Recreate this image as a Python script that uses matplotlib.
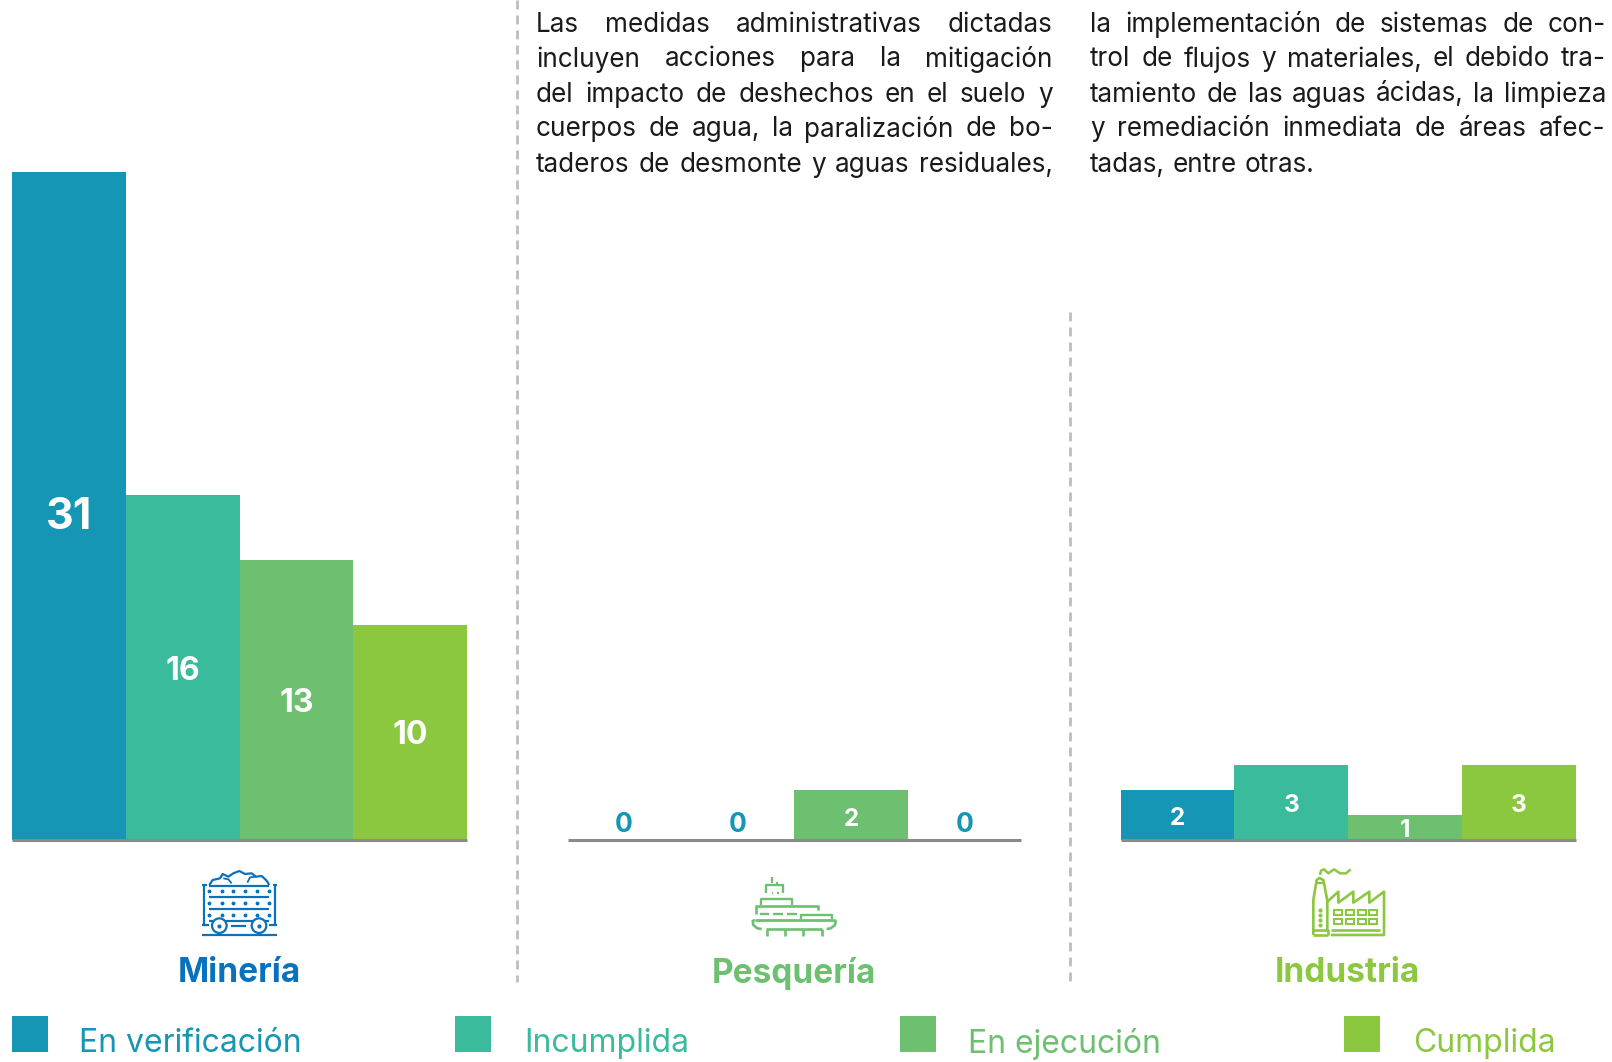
import numpy as np
import matplotlib
matplotlib.use('Agg')
import matplotlib.pyplot as plt
from matplotlib.patches import Rectangle, Circle

W, H = 1612, 1062
statuses = ['En verificación', 'Incumplida', 'En ejecución', 'Cumplida']
colors = ['#1496B4', '#3ABB9C', '#6CC070', '#8CC83F']
mineria = [31, 16, 13, 10]
pesqueria = [0, 0, 2, 0]
industria = [2, 3, 1, 3]
sector_names = ['Minería', 'Pesquería', 'Industria']
sector_colors = ['#0A72BD', '#6CC070', '#8CC83F']
col1 = ['Las medidas administrativas dictadas',
        'incluyen acciones para la mitigación',
        'del impacto de deshechos en el suelo y',
        'cuerpos de agua, la paralización de bo-',
        'taderos de desmonte y aguas residuales,']
col2 = ['la implementación de sistemas de con-',
        'trol de flujos y materiales, el debido tra-',
        'tamiento de las aguas ácidas, la limpieza',
        'y remediación inmediata de áreas afec-',
        'tadas, entre otras.']

plt.rcParams['font.family'] = ['Inter', 'DejaVu Sans']
fig = plt.figure(figsize=(W / 100, H / 100), dpi=100)
bg = fig.add_axes([0, 0, 1, 1])
bg.set_xlim(0, W); bg.set_ylim(H, 0); bg.axis('off')
rend = fig.canvas.get_renderer()

def chart(x0, x1, vals, scale, lab_fs, lab_off):
    base = 840
    ax = fig.add_axes([x0 / W, 1 - base / H, (x1 - x0) / W, base / H])
    ax.patch.set_alpha(0)
    ax.set_xlim(-0.5, 3.5); ax.set_ylim(0, base / scale)
    ax.bar(range(4), vals, width=1.0, color=colors, linewidth=0)
    for s in ['top', 'left', 'right']:
        ax.spines[s].set_visible(False)
    ax.spines['bottom'].set_color('#8A8A8A'); ax.spines['bottom'].set_linewidth(2.2)
    ax.spines['bottom'].set_capstyle('butt')
    ax.set_xticks([]); ax.set_yticks([])
    for i, v in enumerate(vals):
        fs = lab_fs[i] if isinstance(lab_fs, list) else lab_fs
        off = lab_off[i] if isinstance(lab_off, list) else lab_off
        if v == 0:
            ax.annotate(str(v), (i, 0), xytext=(0, 10.5), textcoords='offset points',
                        ha='center', va='center', fontsize=fs + 1.5, fontweight='bold', color=colors[0])
        else:
            ax.annotate(str(v), (i, v / 2), xytext=(0, off), textcoords='offset points',
                        ha='center', va='center', fontsize=fs, fontweight='bold', color='white')

chart(12, 467, mineria, 21.55, [31, 23, 23, 23], [-8.5, -2.5, -2.5, -2.5])
chart(567.5, 1021, pesqueria, 25.1, 17.5, -3)
chart(1120.5, 1576, industria, 25.1, 17.5, -2.5)

# separators
bg.plot([517, 517], [0, 982], color='#BDBDBD', lw=2, ls=(0, (3.2, 2.2)))
bg.plot([1070, 1070], [312, 982], color='#BDBDBD', lw=2, ls=(0, (3.2, 2.2)))

# justified text
def justified(lines, xl, xr, ys, fs, last_flush):
    for k, (line, y) in enumerate(zip(lines, ys)):
        words = line.split(' ')
        ts = [bg.text(0, y, w, fontsize=fs, color='#1A1A1A', va='center', ha='left') for w in words]
        widths = [t.get_window_extent(rend).width for t in ts]
        if k == len(lines) - 1 and not last_flush:
            gap = fs * 0.42
        else:
            gap = (xr - xl - sum(widths)) / (len(words) - 1)
        x = xl
        for t, w in zip(ts, widths):
            t.set_x(x)
            x += w + gap

ys = [24.5, 59.5, 94.5, 129.5, 165]
justified(col1, 536, 1052.5, ys, 18.8, True)
justified(col2, 1090, 1606, ys, 18.8, False)

# sector labels
for name, c, x in zip(sector_names, sector_colors, [239.5, 793.5, 1347.5]):
    bg.text(x, 973, name, color=c, fontsize=24, fontweight='bold', ha='center', va='center')

# legend
for s, c, sx, tx in zip(statuses, colors, [12, 455, 900, 1344], [79, 524, 968, 1413]):
    bg.add_patch(Rectangle((sx, 1016), 36, 36, color=c, lw=0))
    bg.text(tx, 1043.5, s, color=c, fontsize=23, ha='left', va='center')

# icons
def mapper(ox, oy):
    return lambda pts: ([ox + p[0] / 3 for p in pts], [oy + p[1] / 3 for p in pts])

# cart
m = mapper(170, 850); c = sector_colors[0]; lw = 1.6
def L(m, pts, c, lw=lw):
    xs, ys_ = m(pts)
    bg.plot(xs, ys_, color=c, lw=lw, solid_capstyle='butt', solid_joinstyle='round')
L(m, [(103, 105), (103, 225)], c); L(m, [(96, 105), (110, 105)], c); L(m, [(96, 225), (118, 225)], c)
L(m, [(315, 105), (315, 225)], c); L(m, [(308, 105), (322, 105)], c); L(m, [(298, 225), (322, 225)], c)
L(m, [(118, 107), (298, 107)], c)
L(m, [(118, 142), (298, 142)], c); L(m, [(118, 178), (298, 178)], c); L(m, [(118, 212), (298, 212)], c)
for yy in [124, 160, 196]:
    xs, ys_ = m([(x, yy) for x in [118, 155, 190, 226, 262, 298]])
    bg.plot(xs, ys_, ls='', marker='o', ms=1.8, color=c)
L(m, [(118, 105), (128, 90), (150, 85), (158, 72), (175, 80), (190, 70), (208, 63), (225, 72),
      (245, 70), (258, 80), (275, 78), (290, 92), (298, 105)], c)
L(m, [(160, 85), (175, 88), (185, 100)], c, 1.3); L(m, [(232, 98), (240, 82), (258, 80)], c, 1.3)
for cx in [148, 267]:
    xs, ys_ = m([(cx, 227)])
    bg.add_patch(Circle((xs[0], ys_[0]), 7.3, fc='white', ec=c, lw=lw, zorder=3))
    bg.plot(xs, ys_, marker='o', ms=2, color=c, zorder=4)
L(m, [(182, 227), (228, 227)], c); L(m, [(97, 255), (320, 255)], c)

# ship
m = mapper(700, 850); c = sector_colors[1]
L(m, [(215, 82), (215, 100)], c, 1.6); L(m, [(228, 98), (235, 98)], c, 1.6)
L(m, [(197, 130), (197, 105), (250, 105), (250, 130)], c, 1.7)
L(m, [(215, 129), (220, 129)], c, 1.6); L(m, [(232, 129), (237, 129)], c, 1.6)
L(m, [(183, 165), (183, 147), (275, 147), (275, 165)], c, 1.7)
L(m, [(167, 193), (167, 168), (355, 168), (355, 180)], c, 1.9)
for a, b in [(180, 208), (220, 248), (260, 290)]:
    L(m, [(a, 192), (b, 192)], c, 1.7)
L(m, [(302, 208), (302, 195), (397, 195), (397, 208)], c, 1.7)
L(m, [(165, 210), (400, 210)], c, 2.0)
L(m, [(165, 210), (158, 213), (160, 225), (172, 235), (185, 237)], c, 1.9)
L(m, [(400, 210), (407, 213), (405, 225), (392, 235), (380, 237)], c, 1.9)
L(m, [(197, 237), (365, 237)], c, 1.9)
for x in [200, 255, 310, 365]:
    L(m, [(x, 237), (x, 259)], c, 1.9)

# factory
m = mapper(1260, 850); c = sector_colors[2]
L(m, [(180, 75), (183, 62), (192, 58), (205, 70), (222, 58), (240, 70), (258, 70), (272, 58)], c, 1.8)
L(m, [(160, 255), (160, 150), (170, 90), (178, 84), (190, 90), (202, 152), (202, 240)], c, 1.9)
L(m, [(170, 100), (190, 100)], c, 1.7)
L(m, [(202, 155), (235, 125), (235, 158), (280, 125), (280, 158), (328, 125), (328, 158), (372, 125), (372, 255), (212, 255)], c, 1.9)
L(m, [(160, 255), (205, 255)], c, 1.9); L(m, [(160, 240), (205, 240), (205, 255)], c, 1.9)
L(m, [(212, 240), (360, 240)], c, 1.9)
xs, ys_ = m([(180, y) for y in [180, 195, 210, 225]])
bg.plot(xs, ys_, ls='', marker='o', ms=2, color=c)
for yy in [180, 208]:
    for xx in [222, 258, 294, 328]:
        xs, ys_ = m([(xx, yy)])
        bg.add_patch(Rectangle((xs[0], ys_[0]), 8, 4.5, fc='none', ec=c, lw=1.5))

fig.savefig('out.png', dpi=100)
